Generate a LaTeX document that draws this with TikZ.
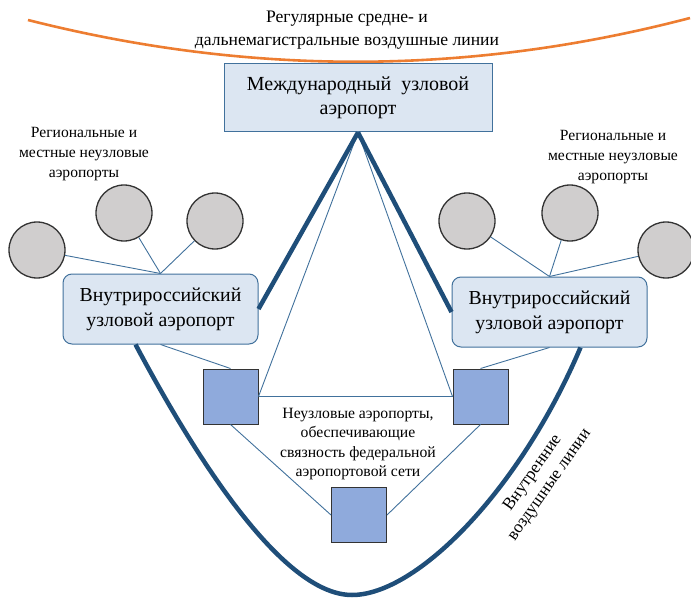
\documentclass[tikz,border=0pt]{standalone}
\usepackage{fontspec}
\setmainfont{Liberation Serif}
\usetikzlibrary{calc}
\definecolor{boxfill}{HTML}{DCE6F2}
\definecolor{boxline}{HTML}{41719C}
\definecolor{thinline}{HTML}{41719C}
\definecolor{thickline}{HTML}{1F4E79}
\definecolor{circfill}{HTML}{D0CECE}
\definecolor{sqfill}{HTML}{8FAADC}
\definecolor{orangeline}{HTML}{ED7D31}
\tikzset{
  mainbox/.style={draw=boxline, line width=1pt, fill=boxfill, minimum width=268pt, minimum height=68pt, inner sep=0pt, align=center, font=\fontsize{20}{24}\selectfont},
  hubbox/.style={draw=boxline, line width=1pt, fill=boxfill, rounded corners=9pt, minimum width=195pt, minimum height=70pt, inner sep=0pt, align=center, font=\fontsize{19.8}{25}\selectfont},
  airport/.style={circle, draw=black!80, line width=1.3pt, fill=circfill, minimum size=56pt, inner sep=0pt},
  sqnode/.style={draw=black!80, line width=1pt, fill=sqfill, minimum size=55pt, inner sep=0pt},
  thin/.style={draw=thinline, line width=0.9pt},
  thick/.style={draw=thickline, line width=4.5pt},
  lbl/.style={align=center, inner sep=0pt},
  rotlbl/.style={inner sep=0pt, rotate=55, font=\fontsize{17.3}{22}\selectfont},
}
\begin{document}
\begin{tikzpicture}[x=1pt,y=-1pt]
\useasboundingbox (0,0) rectangle (691,599);
% orange curve
\coordinate (oa) at (28,20);
\coordinate (ob) at (690,18);
\draw[orangeline, line width=2.6pt] (oa) .. controls (249,76) and (468,76) .. (ob);
\node[lbl, font=\fontsize{17.6}{23}\selectfont] (title) at (347,30) {Регулярные средне- и\\дальнемагистральные воздушные линии};
% main box
\node[mainbox] (main) at (358,98) {Международный\ \ узловой\\аэропорт};
% hub boxes
\node[hubbox] (lbox) at (160.5,309) {Внутрироссийский\\узловой аэропорт};
\node[hubbox] (rbox) at (549.5,312) {Внутрироссийский\\узловой аэропорт};
% regional labels
\node[lbl, font=\fontsize{15.6}{20}\selectfont] (lreg) at (84,154) {Региональные и\\местные неузловые\\аэропорты};
\node[lbl, font=\fontsize{15.6}{20}\selectfont] (rreg) at (613,157) {Региональные и\\местные неузловые\\аэропорты};
% circles
\node[airport] (c1) at (37,250) {};
\node[airport] (c2) at (124,213) {};
\node[airport] (c3) at (215,221) {};
\node[airport] (c4) at (467,221) {};
\node[airport] (c5) at (570,213) {};
\node[airport] (c6) at (666,250) {};
% squares
\node[sqnode] (lsq) at (230.5,396.5) {};
\node[sqnode] (rsq) at (480.5,396.5) {};
\node[sqnode] (bsq) at (359,515) {};
% center label
\node[lbl, font=\fontsize{15.7}{19.5}\selectfont] (mid) at (358,444) {Неузловые аэропорты,\\обеспечивающие\\связность федеральной\\аэропортовой сети};
% thin connectors
\foreach \c in {c1,c2,c3} \draw[thin] (lbox.north) -- (\c);
\foreach \c in {c4,c5,c6} \draw[thin] (rbox.north) -- (\c);
\draw[thin] (main.south) -- (lsq.east);
\draw[thin] (main.south) -- (rsq.west);
\draw[thin] (lsq.east) -- (rsq.west);
\draw[thin] (lbox.south) -- (lsq.north);
\draw[thin] (rbox.south) -- (rsq.north);
\draw[thin] (lsq.south) -- (bsq.west);
\draw[thin] (rsq.south) -- (bsq.east);
% thick connectors
\draw[thick] (main.south) -- (lbox.east);
\draw[thick] (main.south) -- (rbox.west);
\coordinate (ubot) at (352,595);
\draw[thick] ($(lbox.south)+(-25,0)$) .. controls (205,475) and (287,595) .. (ubot)
  .. controls (417,595) and (520,490) .. ($(rbox.south)+(31,0)$);
% rotated label
\node[rotlbl] (inner1) at (533,473) {Внутренние};
\node[rotlbl] (inner2) at (551,486) {воздушные линии};
\end{tikzpicture}
\end{document}
